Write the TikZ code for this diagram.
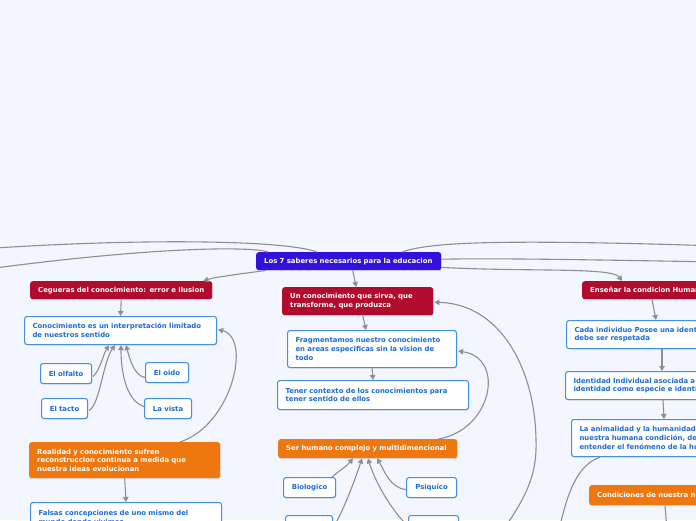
\documentclass[tikz,border=0pt]{standalone}
\usepackage{fontspec}
\setmainfont{DejaVu Sans}
\usetikzlibrary{arrows.meta,calc,shadows}
\definecolor{bg}{HTML}{F3F6FE}
\definecolor{purp}{HTML}{3410DC}
\definecolor{redb}{HTML}{B10C2D}
\definecolor{orab}{HTML}{EE770F}
\definecolor{bblue}{HTML}{4690E4}
\definecolor{tblue}{HTML}{1D6CD6}
\definecolor{lgray}{HTML}{8E8E96}
\newcommand\mbx[1]{\mbox{#1}}
\begin{document}
\begin{tikzpicture}[x=1pt,y=-1pt,
  base/.style={anchor=north west, rounded corners=2.5pt, inner xsep=8pt, inner ysep=0pt,
    font=\fontsize{6.9}{8.7}\selectfont\bfseries, align=left,
    drop shadow={opacity=0.18, shadow xshift=0.6pt, shadow yshift=-1pt}},
  wbox/.style={base, fill=white, draw=bblue, line width=1.1pt, text=tblue},
  sbox/.style={wbox, align=center, inner xsep=0pt},
  rbox/.style={base, fill=redb, text=white},
  obox/.style={base, fill=orab, text=white},
  pbox/.style={base, fill=purp, text=white},
  conn/.style={draw=lgray, line width=1.1pt},
  arr/.style={conn, -{Triangle[length=5pt,width=5.5pt]}}]
\useasboundingbox (0,0) rectangle (696,520);
\fill[bg] (0,0) rectangle (696,520);
\clip (0,0) rectangle (696,520);

% nodes
\node[pbox, text width=169pt, minimum height=18pt] (root) at (256,252) {\mbx{Los 7 saberes necesarios para la educacion}};
\node[rbox, text width=166pt, minimum height=18pt] (ceg) at (30,281) {\mbx{Cegueras del conocimiento: error e ilusion}};
\node[wbox, text width=176pt, minimum height=28pt] (con) at (24,316) {\mbx{Conocimiento es un interpretación limitado}\\\mbx{de nuestros sentido}};
\node[sbox, text width=51pt, minimum height=20pt] (olf) at (40,363) {El olfalto};
\node[sbox, text width=43pt, minimum height=20pt] (oido) at (145,362) {El oido};
\node[sbox, text width=46pt, minimum height=20pt] (tacto) at (41,398) {El tacto};
\node[sbox, text width=47pt, minimum height=20pt] (vista) at (144,398) {La vista};
\node[obox, text width=175pt, minimum height=36pt] (real) at (29,442) {\mbx{Realidad y conocimiento sufren}\\\mbx{reconstruccion continua a medida que}\\\mbx{nuestra ideas evolucionan}};
\node[wbox, text width=175pt, minimum height=30pt] (fals) at (30,502) {\mbx{Falsas concepciones de uno mismo del}\\\mbx{mundo donde vivimos}};

\node[rbox, text width=135pt, minimum height=28pt] (unc) at (282,287) {\mbx{Un conocimiento que sirva, que}\\\mbx{transforme, que produzca}};
\node[wbox, text width=153pt, minimum height=37pt] (frag) at (287,330) {\mbx{Fragmentamos nuestro conocimiento}\\\mbx{en areas especificas sin la vision de}\\\mbx{todo}};
\node[wbox, text width=175pt, minimum height=29pt] (tener) at (277,380) {\mbx{Tener contexto de los conocimientos para}\\\mbx{tener sentido de ellos}};
\node[obox, text width=163pt, minimum height=19pt] (ser) at (278,439) {\mbx{Ser humano complejo y multidimencional}};
\node[sbox, text width=52pt, minimum height=20pt] (bio) at (283,477) {Biologico};
\node[sbox, text width=50pt, minimum height=20pt] (psi) at (406,477) {Psiquico};
\node[sbox, text width=47pt, minimum height=20pt] (bA) at (285,515) {};
\node[sbox, text width=50pt, minimum height=20pt] (bB) at (408,515) {};

\node[rbox, text width=114pt, minimum height=18pt] (ens) at (582,281) {\mbx{Enseñar la condicion Humana}};
\node[wbox, text width=150pt, minimum height=28pt] (cada) at (566,320) {\mbx{Cada individuo Posee una identidad que}\\\mbx{debe ser respetada}};
\node[wbox, text width=150pt, minimum height=28pt] (iden) at (565,371) {\mbx{Identidad Individual asociada a la}\\\mbx{identidad como especie e identidad social}};
\node[wbox, text width=150pt, minimum height=37pt] (anim) at (571,419) {\mbx{La animalidad y la humanidad constituyen}\\\mbx{nuestra humana condición, debemos}\\\mbx{entender el fenómeno de la humanidad}};
\node[obox, text width=130pt, minimum height=20pt] (cond) at (589,485) {\mbx{Condiciones de nuestra naturaleza}};

% free ends
\coordinate (fA) at (-20,249);
\coordinate (fB) at (-20,270);
\coordinate (fC) at (720,246);
\coordinate (fD) at (720,262);
\coordinate (fBig) at (503,530);
\coordinate (fAnim) at (559,530);
\coordinate (fCond) at (667,530);

% connectors
\draw[conn] ($(root.north west)+(61,0)$) .. controls (285,240) and (140,238) .. (fA);
\draw[conn] ($(root.north west)+(12,0)$) .. controls (250,246) and (150,247) .. (fB);
\draw[conn] ($(root.north west)+(146,0)$) .. controls (430,242) and (500,239) .. (fC);
\draw[conn] ($(root.east)+(0,-2)$) .. controls (500,258) and (600,260) .. (fD);

\draw[arr] ($(root.south west)+(10,0)$) .. controls (240,274) and (215,277) .. ($(ceg.north east)+(-9,0)$);
\draw[arr] ($(root.south)+(4,0)$) -- ($(unc.north)+(-1.5,0)$);
\draw[arr] ($(root.south east)+(0,-3)$) .. controls (530,272) and (612,267) .. ($(ens.north west)+(40,0)$);

\draw[arr] (ceg.south) -- (con.north);
\draw[arr] ($(olf.east)+(1,3)$) .. controls (100,370) and (103,355) .. ($(con.south west)+(85,0)$);
\draw[arr] ($(tacto.east)+(1,2)$) .. controls (100,404) and (103,362) .. ($(con.south west)+(91,0)$);
\draw[arr] ($(vista.west)+(0,-2)$) .. controls (124,400) and (121,366) .. ($(con.south west)+(97,0)$);
\draw[arr] ($(oido.west)+(0,5)$) .. controls (134,375) and (130,360) .. ($(con.south west)+(102,0)$);
\draw[arr] ($(real.north west)+(151,0)$) .. controls (232,425) and (252,338) .. ($(con.east)+(1,-1)$);
\draw[arr] (real.south) -- (fals.north);

\draw[arr] ($(unc.south)+(5,0)$) -- ($(frag.north)+(-6,0)$);
\draw[arr] (frag.south) -- (tener.north);
\draw[arr] ($(ser.north east)+(-19,0)$) .. controls (492,430) and (506,358) .. ($(frag.east)+(1,2)$);
\draw[arr] (fBig) .. controls (530,492) and (537,470) .. (536,440) .. controls (535,368) and (500,304) .. ($(unc.east)+(1,1)$);
\draw[arr] ($(bio.north east)+(-4,0)$) .. controls (340,470) and (346,467) .. ($(ser.south west)+(75,0)$);
\draw[arr] ($(bA.east)+(0,2)$) .. controls (342,514) and (355,480) .. ($(ser.south west)+(84,0)$);
\draw[arr] ($(bB.west)+(0,0)$) .. controls (398,518) and (377,488) .. ($(ser.south west)+(90,0)$);
\draw[arr] ($(psi.west)+(0,2)$) .. controls (390,488) and (384,470) .. ($(ser.south west)+(99,0)$);

\draw[arr] ($(ens.south west)+(70,0)$) -- ($(cada.north west)+(90,0)$);
\draw[arr] ($(cada.south west)+(96,0)$) -- ($(iden.north west)+(97,0)$);
\draw[arr] ($(iden.south west)+(98,0)$) -- ($(anim.north west)+(93,0)$);
\draw[conn] ($(anim.south west)+(29,0)$) .. controls (578,465) and (568,490) .. (fAnim);
\draw[conn] ($(cond.south west)+(76,0)$) -- (fCond);
\end{tikzpicture}
\end{document}
